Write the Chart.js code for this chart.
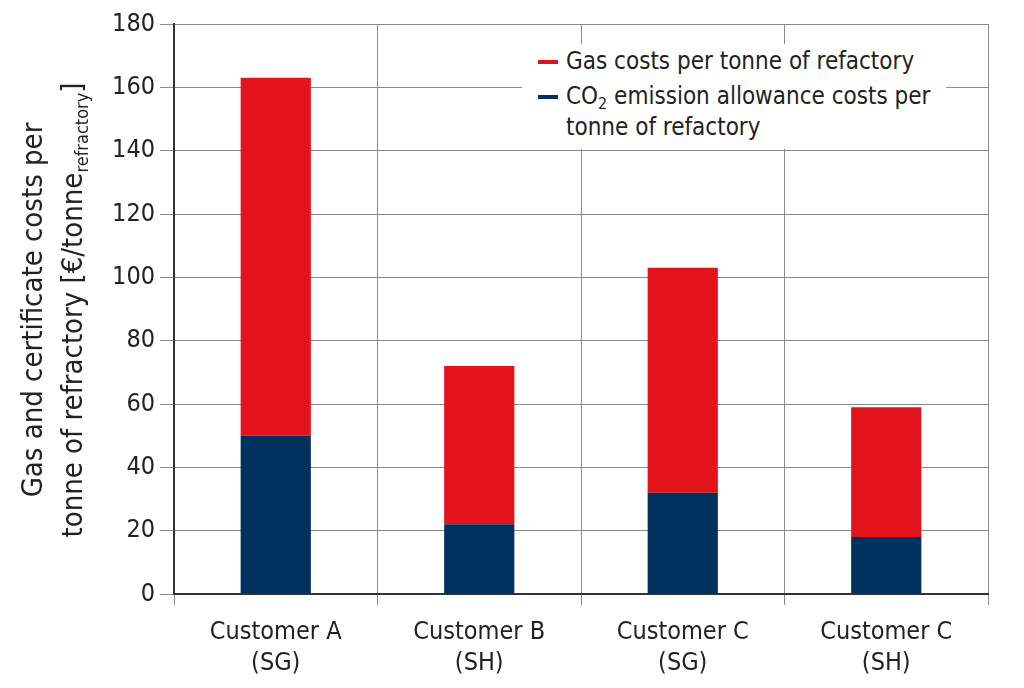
<!DOCTYPE html>
<html>
<head>
<meta charset="utf-8">
<script src="https://cdn.jsdelivr.net/npm/chart.js@4"></script>
<style>
  html, body { margin: 0; padding: 0; background: #fff; }
  #wrap { position: relative; width: 1024px; height: 688px; font-family: 'Liberation Sans Narrow', 'DejaVu Sans Condensed', 'Liberation Sans', sans-serif; color: #222; }
  #ytitle {
    position: absolute; left: 52px; top: 310px; width: 600px;
    transform: translate(-50%, -50%) rotate(-90deg);
    text-align: center; font-size: 29px; line-height: 40px; white-space: nowrap;
  }
  #ytitle sub { font-size: 18px; vertical-align: -6px; line-height: 0; }
  #legend {
    position: absolute; left: 522px; top: 44px; width: 410px; padding: 2px 0 6px 14px;
    background: #fff; font-size: 24px; line-height: 31px;
  }
  .item { position: relative; padding-left: 30px; }
  .item + .item { margin-top: 4px; }
  .item i { position: absolute; left: 2px; top: 14px; width: 20px; height: 4px; }
  #legend sub { font-size: 16px; vertical-align: -5px; line-height: 0; }
</style>
</head>
<body>
<div id="wrap">
  <canvas id="chart" width="1024" height="688"></canvas>
  <div id="ytitle">Gas and certificate costs per<br>tonne of refractory [€/tonne<sub>refractory</sub>]</div>
  <div id="legend">
    <div class="item"><i style="background:#e3131b"></i>Gas costs per tonne of refactory</div>
    <div class="item"><i style="background:#00315f"></i>CO<sub>2</sub> emission allowance costs per<br>tonne of refactory</div>
  </div>
</div>
<script>
const categories = [['Customer A', '(SG)'], ['Customer B', '(SH)'], ['Customer C', '(SG)'], ['Customer C', '(SH)']];
const co2Costs = [50, 22, 32, 18];
const gasCosts = [113, 50, 71, 41];
const yTicks = { min: 0, max: 180, step: 20 };

const fontFam = "'Liberation Sans Narrow', 'DejaVu Sans Condensed', 'Liberation Sans', sans-serif";

new Chart(document.getElementById('chart'), {
  type: 'bar',
  data: {
    labels: categories,
    datasets: [
      { label: 'CO2 emission allowance costs per tonne of refactory', data: co2Costs, backgroundColor: '#00315f' },
      { label: 'Gas costs per tonne of refactory', data: gasCosts, backgroundColor: '#e3131b' }
    ]
  },
  options: {
    responsive: false,
    animation: false,
    layout: { padding: { top: 24, right: 36, left: 0, bottom: 0 } },
    datasets: { bar: { categoryPercentage: 1, barPercentage: 0.345 } },
    plugins: { legend: { display: false }, tooltip: { enabled: false } },
    scales: {
      x: {
        stacked: true,
        grid: { color: '#8a8a8a', lineWidth: 1, tickLength: 11, offset: true },
        border: { color: '#333', width: 2 },
        ticks: { color: '#222', font: { family: fontFam, size: 25, lineHeight: 1.25 }, padding: 12 },
        afterFit: s => { s.height = 94; }
      },
      y: {
        stacked: true,
        min: yTicks.min, max: yTicks.max,
        grid: { color: '#8a8a8a', lineWidth: 1, tickLength: 14 },
        border: { color: '#333', width: 2 },
        ticks: { stepSize: yTicks.step, color: '#222', font: { family: fontFam, size: 25 }, padding: 5 },
        afterFit: s => { s.width = 174; }
      }
    }
  }
});
</script>
</body>
</html>
